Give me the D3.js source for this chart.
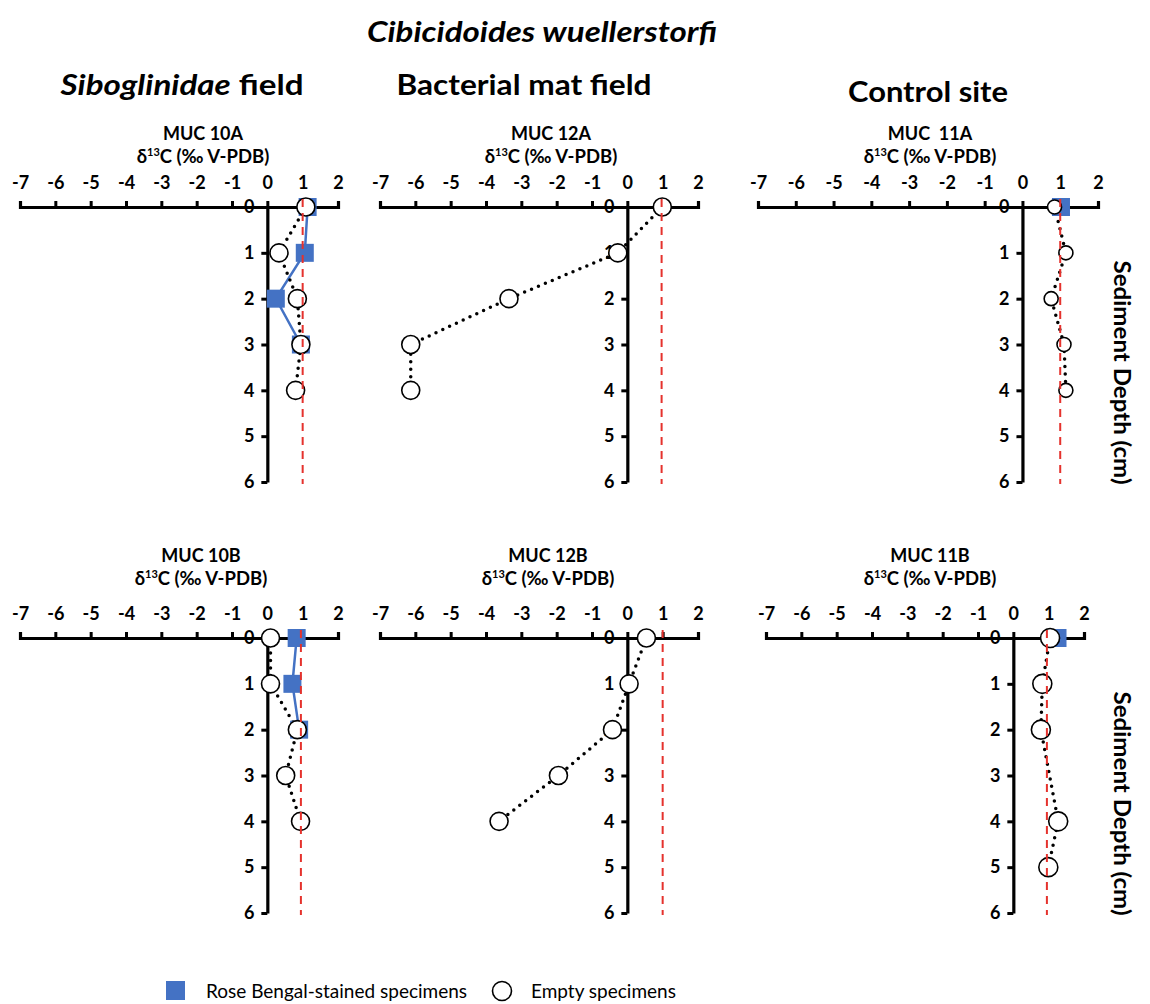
<!DOCTYPE html>
<html lang="en">
<head>
    <meta charset="UTF-8">
    <title>Cibicidoides wuellerstorfi</title>
    <script src="https://cdn.jsdelivr.net/npm/d3@7"></script>
    <style>
        body {
            margin: 0;
            background-color: #fff;
            font-family: 'Lato', 'Open Sans', sans-serif;
        }
        svg text {
            fill: #000;
        }
        .tick text {
            font-family: 'Lato', sans-serif;
            font-weight: bold;
            font-size: 18px;
        }
    </style>
</head>
<body>
    <svg id="chart" width="1150" height="1004"></svg>

    <script>
        // tick values
        const xTicks = [-7, -6, -5, -4, -3, -2, -1, 0, 1, 2];
        const depthTicks = [0, 1, 2, 3, 4, 5, 6];

        // sediment depth (cm) for each data slot
        const depths = [0, 1, 2, 3, 4, 5];

        // d13C values (permil V-PDB), null = no specimen at that depth
        const muc10A_stained = [1.14, 1.06, 0.24, 0.95, null, null];
        const muc10A_empty   = [1.09, 0.33, 0.85, 0.95, 0.80, null];
        const muc12A_stained = [null, null, null, null, null, null];
        const muc12A_empty   = [0.99, -0.27, -3.35, -6.13, -6.13, null];
        const muc11A_stained = [1.02, null, null, null, null, null];
        const muc11A_empty   = [0.85, 1.15, 0.76, 1.10, 1.15, null];
        const muc10B_stained = [0.83, 0.71, 0.90, null, null, null];
        const muc10B_empty   = [0.09, 0.09, 0.85, 0.52, 0.94, null];
        const muc12B_stained = [null, null, null, null, null, null];
        const muc12B_empty   = [0.54, 0.05, -0.42, -1.95, -3.63, null];
        const muc11B_stained = [1.25, null, null, null, null, null];
        const muc11B_empty   = [1.04, 0.82, 0.78, null, 1.27, 0.99];

        // red dashed reference line per core
        const refValues = [1.0, 0.97, 1.0, 0.95, 1.0, 0.95];

        const coreNames = ["MUC 10A", "MUC 12A", "MUC  11A", "MUC 10B", "MUC 12B", "MUC 11B"];
        const stainedSets = [muc10A_stained, muc12A_stained, muc11A_stained, muc10B_stained, muc12B_stained, muc11B_stained];
        const emptySets = [muc10A_empty, muc12A_empty, muc11A_empty, muc10B_empty, muc12B_empty, muc11B_empty];

        const columnTitles = ["Siboglinidae field", "Bacterial mat field", "Control site"];

        // panel frames: pixel of -7, pixel of 2, y of depth 0, y of depth 6, title center
        const frames = [
            { x0: 20,  x1: 338,  y0: 207, y1: 482, cx: 203, ty: 140, r: 9 },
            { x0: 380, x1: 698,  y0: 207, y1: 482, cx: 551, ty: 140, r: 9 },
            { x0: 758, x1: 1098, y0: 207, y1: 482, cx: 930, ty: 140, r: 7 },
            { x0: 20,  x1: 338,  y0: 638, y1: 913, cx: 201, ty: 562, r: 9 },
            { x0: 380, x1: 698,  y0: 638, y1: 913, cx: 548, ty: 562, r: 9 },
            { x0: 766, x1: 1084, y0: 638, y1: 913, cx: 930, ty: 562, r: 9.5 }
        ];

        const blue = "#4472C4";
        const red = "#E5322D";

        const svg = d3.select("#chart");

        // main title
        svg.append("text")
            .attr("x", 542).attr("y", 42)
            .attr("text-anchor", "middle")
            .attr("textLength", 350).attr("lengthAdjust", "spacingAndGlyphs")
            .style("font-size", "29px").style("font-weight", "bold").style("font-style", "italic")
            .text("Cibicidoides wuellerstorfi");

        // column headers
        const head = svg.append("g")
            .style("font-size", "29px").style("font-weight", "bold");
        const h1 = head.append("text").attr("x", 182).attr("y", 95).attr("text-anchor", "middle")
            .attr("textLength", 243).attr("lengthAdjust", "spacingAndGlyphs");
        h1.append("tspan").style("font-style", "italic").text("Siboglinidae");
        h1.append("tspan").text(" field");
        head.append("text").attr("x", 524).attr("y", 95).attr("text-anchor", "middle")
            .attr("textLength", 255).attr("lengthAdjust", "spacingAndGlyphs")
            .text(columnTitles[1]);
        head.append("text").attr("x", 928).attr("y", 102).attr("text-anchor", "middle")
            .attr("textLength", 160).attr("lengthAdjust", "spacingAndGlyphs")
            .text(columnTitles[2]);

        frames.forEach((f, i) => {
            const x = d3.scaleLinear().domain([-7, 2]).range([f.x0, f.x1]);
            const y = d3.scaleLinear().domain([0, 6]).range([f.y0, f.y1]);
            const g = svg.append("g");

            // panel title
            g.append("text")
                .attr("x", f.cx).attr("y", f.ty)
                .attr("text-anchor", "middle")
                .style("font-size", "18px").style("font-weight", "bold")
                .style("white-space", "pre")
                .text(coreNames[i]);
            const lab = g.append("text")
                .attr("x", f.cx).attr("y", f.ty + 23)
                .attr("text-anchor", "middle")
                .style("font-size", "18.5px").style("font-weight", "bold");
            lab.append("tspan").text("δ");
            lab.append("tspan").attr("dy", -7).style("font-size", "11px").text("13");
            lab.append("tspan").attr("dy", 7).text("C (‰ V-PDB)");

            // x axis along depth 0
            const xAxis = g.append("g")
                .attr("transform", `translate(0,${f.y0})`)
                .call(d3.axisTop(x).tickValues(xTicks).tickFormat(d => String(d))
                    .tickSize(6).tickSizeOuter(6).tickPadding(12));

            // depth axis at d13C = 0
            const yAxis = g.append("g")
                .attr("transform", `translate(${x(0)},0)`)
                .call(d3.axisLeft(y).tickValues(depthTicks).tickFormat(d => String(d))
                    .tickSize(6).tickSizeOuter(0).tickPadding(6));

            [xAxis, yAxis].forEach(a => {
                a.select(".domain").attr("stroke", "#000").attr("stroke-width", 3.2);
                a.selectAll(".tick line").attr("stroke", "#000").attr("stroke-width", 3);
            });
            yAxis.selectAll(".tick text").attr("dx", -1);

            const stained = depths.map((d, k) => ({ depth: d, v: stainedSets[i][k] })).filter(p => p.v !== null);
            const empty = depths.map((d, k) => ({ depth: d, v: emptySets[i][k] })).filter(p => p.v !== null);

            const line = d3.line().x(p => x(p.v)).y(p => y(p.depth));

            if (stained.length > 1) {
                g.append("path")
                    .attr("d", line(stained))
                    .attr("fill", "none")
                    .attr("stroke", blue)
                    .attr("stroke-width", 2.5);
            }

            g.append("path")
                .attr("d", line(empty))
                .attr("fill", "none")
                .attr("stroke", "#000")
                .attr("stroke-width", 3.5)
                .attr("stroke-linecap", "round")
                .attr("stroke-dasharray", "0,7.5");

            g.selectAll(".sq")
                .data(stained)
                .enter().append("rect")
                .attr("x", p => x(p.v) - 9)
                .attr("y", p => y(p.depth) - 9)
                .attr("width", 18).attr("height", 18)
                .attr("fill", blue);

            g.selectAll(".dot")
                .data(empty)
                .enter().append("circle")
                .attr("cx", p => x(p.v))
                .attr("cy", p => y(p.depth))
                .attr("r", f.r)
                .attr("fill", "#fff")
                .attr("stroke", "#000")
                .attr("stroke-width", 1.6);

            // reference line
            g.append("line")
                .attr("x1", x(refValues[i])).attr("x2", x(refValues[i]))
                .attr("y1", f.y0 - 8).attr("y2", f.y1 + 2)
                .attr("stroke", red)
                .attr("stroke-width", 2)
                .attr("stroke-dasharray", "8,6");

            // right-hand axis title
            if (i % 3 === 2) {
                svg.append("text")
                    .attr("transform", `translate(1114,${(f.y0 + f.y1) / 2 + 28}) rotate(90)`)
                    .attr("text-anchor", "middle")
                    .attr("textLength", 224).attr("lengthAdjust", "spacingAndGlyphs")
                    .style("font-size", "22px").style("font-weight", "bold")
                    .text("Sediment Depth (cm)");
            }
        });

        // legend
        const leg = svg.append("g").style("font-size", "19px");
        leg.append("rect").attr("x", 166).attr("y", 981).attr("width", 19).attr("height", 19).attr("fill", blue);
        leg.append("text").attr("x", 206).attr("y", 998).text("Rose Bengal-stained specimens");
        leg.append("circle").attr("cx", 502).attr("cy", 991).attr("r", 9.5)
            .attr("fill", "#fff").attr("stroke", "#000").attr("stroke-width", 1.6);
        leg.append("text").attr("x", 531).attr("y", 998).text("Empty specimens");
    </script>
</body>
</html>
